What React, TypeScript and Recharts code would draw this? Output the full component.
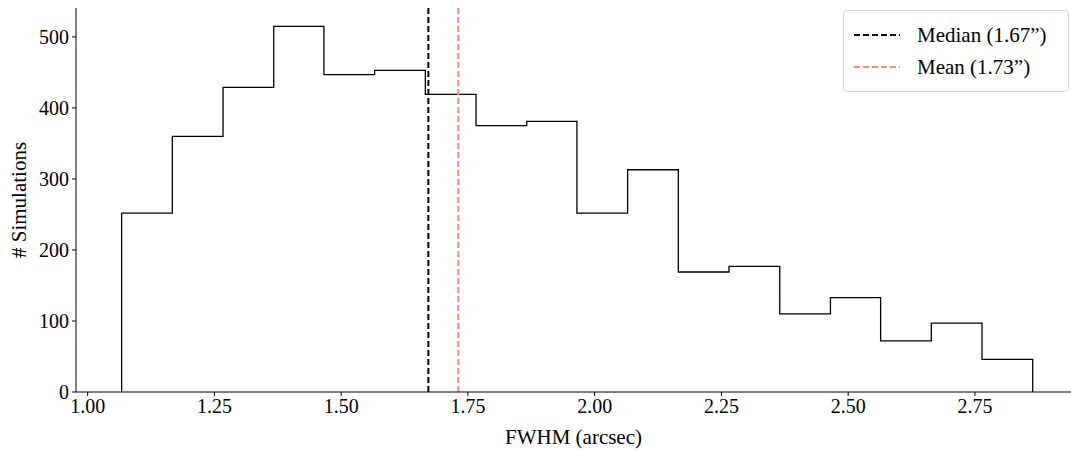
import { ComposedChart, Line, XAxis, YAxis, ReferenceLine } from 'recharts';

// histogram bin edges (arcsec) and counts per bin
const binEdges = [1.067, 1.167, 1.267, 1.367, 1.466, 1.566, 1.666, 1.766, 1.866, 1.965, 2.065, 2.165, 2.265, 2.365, 2.465, 2.564, 2.664, 2.764, 2.864];
const counts = [252, 360, 429, 515, 447, 453, 419, 375, 381, 252, 313, 169, 177, 110, 133, 72, 97, 46];

const xTicks = [1.0, 1.25, 1.5, 1.75, 2.0, 2.25, 2.5, 2.75];
const yTicks = [0, 100, 200, 300, 400, 500];

const median = 1.672;
const mean = 1.731;

const FONT = '"Liberation Serif", "DejaVu Serif", serif';
const MEAN_COLOR = '#f98a80';

// outline of the step histogram: up at first edge, across each bin, down at last edge
const steps = [
  { x: binEdges[0], y: 0 },
  ...counts.map((c, i) => ({ x: binEdges[i], y: c })),
  { x: binEdges[binEdges.length - 1], y: 0 },
];

const XTick = (props: any) => {
  const { x, y, payload } = props;
  return (
    <text x={x} y={y + 15} textAnchor="middle" fontFamily={FONT} fontSize={20} fill="#000">
      {payload.value.toFixed(2)}
    </text>
  );
};

const YTick = (props: any) => {
  const { x, y, payload } = props;
  return (
    <text x={x} y={y + 7} textAnchor="end" fontFamily={FONT} fontSize={20} fill="#000">
      {payload.value}
    </text>
  );
};

const legendItems = [
  { label: 'Median (1.67\u201d)', color: '#000' },
  { label: 'Mean (1.73\u201d)', color: MEAN_COLOR },
];

export default function App() {
  return (
    <div style={{ position: 'absolute', left: 0, top: 0, width: 1071, height: 450, background: '#fff' }}>
      <ComposedChart width={1071} height={450} data={steps} margin={{ top: 8, right: 0, bottom: 0, left: 0 }}>
        <XAxis
          dataKey="x"
          type="number"
          domain={[0.977, 2.9395]}
          ticks={xTicks}
          tick={<XTick />}
          tickSize={4}
          tickMargin={2}
          tickLine={{ stroke: '#000', strokeWidth: 1 }}
          axisLine={{ stroke: '#000', strokeWidth: 1 }}
          height={58}
          allowDataOverflow
          label={{ value: 'FWHM (arcsec)', position: 'insideBottom', offset: 6, fontFamily: FONT, fontSize: 21, fill: '#000' }}
        />
        <YAxis
          type="number"
          domain={[0, 540.75]}
          ticks={yTicks}
          tick={<YTick />}
          tickSize={4}
          tickMargin={3}
          tickLine={{ stroke: '#000', strokeWidth: 1 }}
          axisLine={{ stroke: '#000', strokeWidth: 1 }}
          width={76}
          allowDataOverflow
          label={{ value: '# Simulations', angle: -90, position: 'insideLeft', offset: 19, fontFamily: FONT, fontSize: 21, fill: '#000', style: { textAnchor: 'middle' } }}
        />
        <Line
          type="stepAfter"
          dataKey="y"
          stroke="#000"
          strokeWidth={1.3}
          dot={false}
          activeDot={false}
          isAnimationActive={false}
        />
        <ReferenceLine x={median} stroke="#000" strokeWidth={2} strokeDasharray="6 3" />
        <ReferenceLine x={mean} stroke={MEAN_COLOR} strokeWidth={2} strokeDasharray="6 3" />
      </ComposedChart>
      <div
        style={{
          position: 'absolute',
          left: 843,
          top: 10,
          width: 204,
          height: 62,
          border: '1px solid #d6d6d6',
          borderRadius: 4,
          background: 'rgba(255,255,255,0.8)',
          padding: '8px 10px 10px 10px',
          fontFamily: FONT,
          fontSize: 21,
          lineHeight: '32px',
        }}
      >
        {legendItems.map((item) => (
          <div key={item.label} style={{ display: 'flex', alignItems: 'center' }}>
            <svg width={46} height={4} style={{ marginRight: 17 }}>
              <line x1={0} x2={46} y1={2} y2={2} stroke={item.color} strokeWidth={2} strokeDasharray="6 3" />
            </svg>
            <span style={{ whiteSpace: 'nowrap' }}>{item.label}</span>
          </div>
        ))}
      </div>
    </div>
  );
}
